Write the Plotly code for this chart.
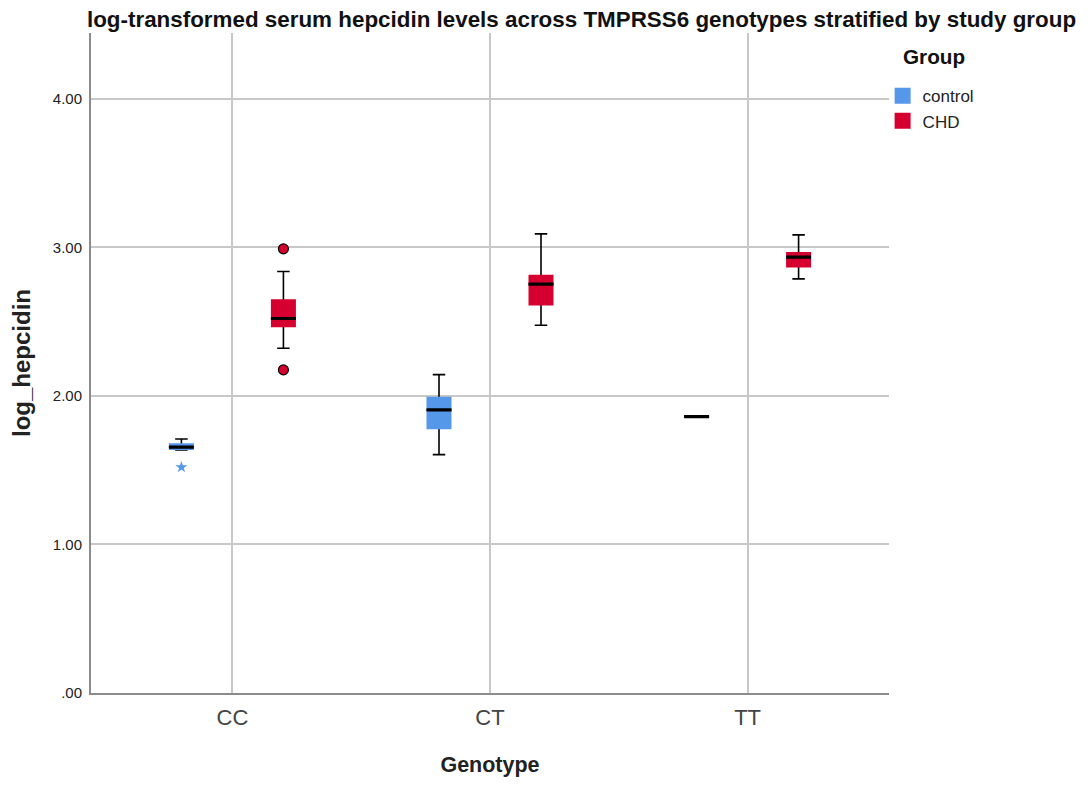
import plotly.graph_objects as go

# ---------------- data ----------------
genotypes = ["CC", "CT", "TT"]

control_q1 = [1.636, 1.776, 1.861]
control_median = [1.655, 1.906, 1.861]
control_q3 = [1.681, 1.995, 1.861]
control_lower = [1.636, 1.605, 1.861]
control_upper = [1.710, 2.143, 1.861]
control_outliers = [[1.52], [], []]

chd_q1 = [2.463, 2.608, 2.864]
chd_median = [2.521, 2.752, 2.934]
chd_q3 = [2.651, 2.815, 2.968]
chd_lower = [2.321, 2.476, 2.788]
chd_upper = [2.837, 3.091, 3.084]
chd_outliers = [[2.990, 2.175], [], []]

y_tickvals = [0, 1, 2, 3, 4]
y_ticktext = [".00", "1.00", "2.00", "3.00", "4.00"]

# ---------------- style ----------------
FONT = "Liberation Sans, Arial, sans-serif"
BLUE = "#5597E8"
RED = "#D5002F"

groups = [
    dict(name="control", color=BLUE, q1=control_q1, med=control_median, q3=control_q3,
         lo=control_lower, hi=control_upper, out=control_outliers,
         marker=dict(symbol="star", size=9, color=BLUE, line=dict(width=0))),
    dict(name="CHD", color=RED, q1=chd_q1, med=chd_median, q3=chd_q3,
         lo=chd_lower, hi=chd_upper, out=chd_outliers,
         marker=dict(symbol="circle", size=10, color=RED, line=dict(color="black", width=1.2))),
]

fig = go.Figure()
for g in groups:
    common = dict(x=genotypes, offsetgroup=g["name"], alignmentgroup="all",
                  hoverinfo="skip", showlegend=False)
    # layer 1: whiskers + caps (black) and outliers
    fig.add_trace(go.Box(
        **common, name=g["name"],
        q1=g["med"], median=g["med"], q3=g["med"],
        lowerfence=g["lo"], upperfence=g["hi"],
        y=g["out"], boxpoints="outliers", pointpos=0, jitter=0,
        marker=g["marker"],
        line=dict(color="black", width=1.6),
        fillcolor="rgba(0,0,0,0)", whiskerwidth=0.5,
    ))
    # layer 2: box fill
    fig.add_trace(go.Box(
        **common, name=g["name"],
        q1=g["q1"], median=g["med"], q3=g["q3"],
        lowerfence=g["q1"], upperfence=g["q3"],
        boxpoints=False,
        line=dict(color=g["color"], width=0),
        fillcolor=g["color"],
    ))
    # layer 3: median line
    fig.add_trace(go.Box(
        **common, name=g["name"],
        q1=g["med"], median=g["med"], q3=g["med"],
        lowerfence=g["med"], upperfence=g["med"],
        boxpoints=False,
        line=dict(color="black", width=3.2),
        fillcolor="rgba(0,0,0,0)", whiskerwidth=0,
    ))
    # legend entry
    fig.add_trace(go.Scatter(
        x=[None], y=[None], mode="markers", name=g["name"],
        marker=dict(symbol="square", size=16, color=g["color"]),
        showlegend=True, hoverinfo="skip",
    ))

fig.update_layout(
    width=1083, height=769,
    margin=dict(l=83, r=202, t=25, b=84),
    paper_bgcolor="white", plot_bgcolor="white",
    boxmode="group", boxgap=0.208, boxgroupgap=0.755,
    font=dict(family=FONT, color="#222"),
    title=dict(
        text="<b>log-transformed serum hepcidin levels across TMPRSS6 genotypes stratified by study group</b>",
        font=dict(size=22.4, color="#111", family=FONT),
        xref="container", x=0.0729, xanchor="left",
        yref="container", y=0.9855, yanchor="middle",
    ),
    legend=dict(
        font=dict(size=17, color="#222"),
        x=0.992, xanchor="left", y=0.9315, yanchor="top",
        bgcolor="rgba(0,0,0,0)", itemclick=False, tracegroupgap=0,
        itemsizing="trace",
    ),
    showlegend=True,
    annotations=[dict(
        text="<b>Group</b>", xref="paper", yref="paper",
        x=1.015, xanchor="left", y=0.965, yanchor="middle",
        showarrow=False, font=dict(size=20.7, color="#111", family=FONT),
    )],
)

fig.update_xaxes(
    type="category", range=[-0.549, 2.549],
    showgrid=True, gridcolor="#C8C8C8", gridwidth=1.5,
    showline=True, linecolor="#8C8C8C", linewidth=2,
    ticks="", ticklabelstandoff=4, tickfont=dict(size=22, color="#444"),
    title=dict(text="<b>Genotype</b>", font=dict(size=21.5, color="#222"), standoff=33),
    zeroline=False, automargin=False,
)
fig.update_yaxes(
    range=[0, 4.443],
    tickvals=y_tickvals, ticktext=y_ticktext,
    showgrid=True, gridcolor="#C8C8C8", gridwidth=1.5,
    showline=True, linecolor="#8C8C8C", linewidth=2,
    ticks="", ticklabelstandoff=4, tickfont=dict(size=15, color="#222"),
    title=dict(text="<b>log_hepcidin</b>", font=dict(size=24, color="#222"), standoff=16),
    zeroline=False, automargin=False,
)

fig.write_html("out.html")
